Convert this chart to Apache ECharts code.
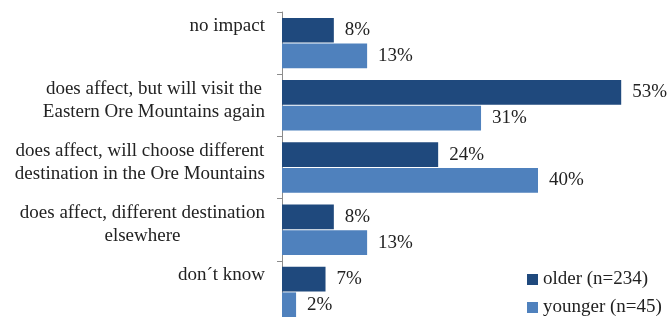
<!DOCTYPE html>
<html>
<head>
<meta charset="utf-8">
<script src="https://cdn.jsdelivr.net/npm/echarts@6/dist/echarts.min.js"></script>
<style>
  html, body { margin: 0; padding: 0; background: #fff; }
  #chart { width: 670px; height: 317px; }
</style>
</head>
<body>
<div id="chart"></div>
<script>
// categories top to bottom
const categories = [
  "no impact",
  "does affect, but will visit the\nEastern Ore Mountains again",
  "does affect, will choose different\ndestination in the Ore Mountains",
  "does affect, different destination\nelsewhere",
  "don´t know"
];

const seriesNames = ["older (n=234)", "younger (n=45)"];

// shares in percent
const olderValues = [8.1, 53.0, 24.4, 8.1, 6.8];
const youngerValues = [13.3, 31.1, 40.0, 13.3, 2.2];

const FONT = "'Liberation Serif', 'Times New Roman', serif";
const TEXT = "#222";

const chart = echarts.init(document.getElementById("chart"));

// labels sit at the top edge of each band, so a second category axis
// without boundary gap carries them (one extra empty slot at the end)
const labelSlots = categories.concat([""]);

const barLabel = {
  show: true,
  position: "right",
  distance: 11,
  color: TEXT,
  fontFamily: FONT,
  fontSize: 19,
  formatter: (p) => Math.round(p.value) + "%"
};

chart.setOption({
  animation: false,
  // the last band runs a little past the bottom edge of the picture
  grid: { left: 282, right: 4, top: 12, height: 311, outerBoundsMode: "none", containLabel: false },
  xAxis: { type: "value", min: 0, max: 60, show: false },
  yAxis: [
    {
      type: "category",
      inverse: true,
      data: categories,
      axisLine: { show: true, lineStyle: { color: "#8c8c8c", width: 1 } },
      axisTick: { show: true, length: 5, lineStyle: { color: "#8c8c8c" } },
      axisLabel: { show: false },
      splitLine: { show: false }
    },
    {
      type: "category",
      inverse: true,
      position: "left",
      boundaryGap: false,
      data: labelSlots,
      axisLine: { show: false },
      axisTick: { show: false },
      splitLine: { show: false },
      axisLabel: {
        interval: 0,
        margin: 17,
        align: "right",
        verticalAlign: "top",
        padding: [3, 0, 0, 0],
        color: TEXT,
        fontFamily: FONT,
        fontSize: 19,
        lineHeight: 23,
        formatter: (v) => v ? v.split("\n").map(l => "{c|" + l + "}").join("\n") : "",
        rich: {
          c: { align: "center", color: TEXT, fontFamily: FONT, fontSize: 19, lineHeight: 23 }
        }
      }
    }
  ],
  legend: {
    orient: "vertical",
    left: 527,
    top: 270,
    padding: 0,
    itemWidth: 11,
    itemHeight: 11,
    itemGap: 9,
    icon: "rect",
    data: seriesNames,
    textStyle: { color: TEXT, fontFamily: FONT, fontSize: 19, lineHeight: 19 }
  },
  series: [
    {
      name: seriesNames[0],
      type: "bar",
      yAxisIndex: 0,
      data: olderValues,
      barGap: "4%",
      barCategoryGap: "19%",
      itemStyle: { color: "#1f497d" },
      label: barLabel
    },
    {
      name: seriesNames[1],
      type: "bar",
      yAxisIndex: 0,
      data: youngerValues,
      barGap: "4%",
      barCategoryGap: "19%",
      itemStyle: { color: "#4f81bd" },
      label: barLabel
    }
  ]
});
</script>
</body>
</html>
